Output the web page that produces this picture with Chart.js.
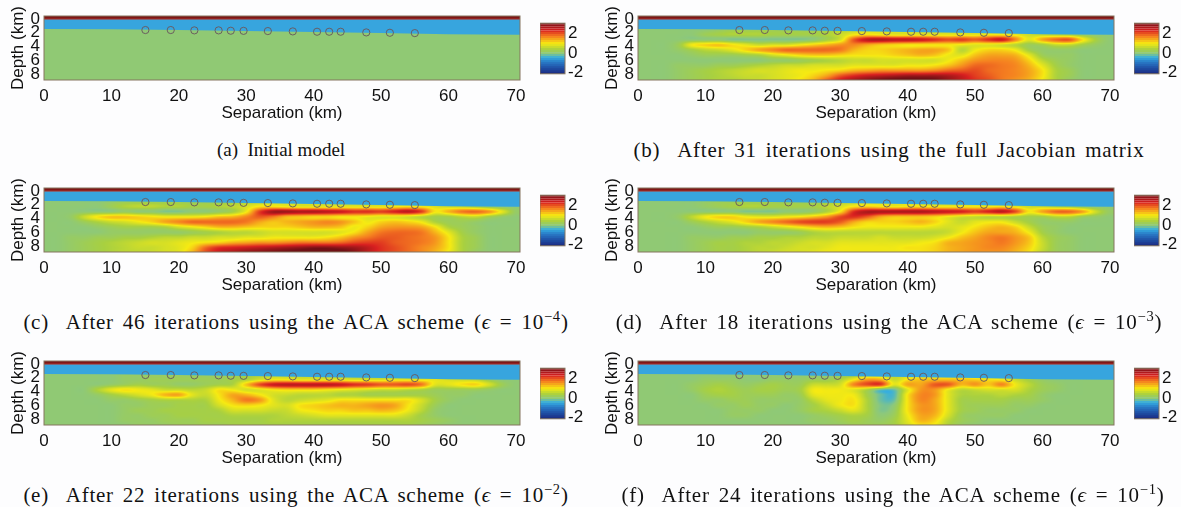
<!DOCTYPE html>
<html>
<head>
<meta charset="utf-8">
<title>Inverted conductivity models</title>
<script src="https://cdn.jsdelivr.net/npm/chart.js@4"></script>
<style>
    html, body { margin: 0; padding: 0; background: #fdfdfe; }
    body { position: relative; width: 1181px; height: 507px; overflow: hidden; }
    canvas { position: absolute; }
    .cap {
        position: absolute; white-space: nowrap; transform: translateX(-50%);
        font-family: "Liberation Serif", serif; font-size: 21px; line-height: 20px; color: #111;
        letter-spacing: 0.75px; word-spacing: 3px;
    }
    .cap.short { font-size: 19px; letter-spacing: 0; word-spacing: 0; }
    .cap sup { font-size: 14.5px; line-height: 0; }
</style>
</head>
<body>
<script>
// axes
const sepTicks = [0, 10, 20, 30, 40, 50, 60, 70];
const depthTicks = [0, 2, 4, 6, 8];
const colorTicks = [-2, 0, 2];

// receivers on the sea floor
const receiverX = [15.04, 18.8, 22.3, 25.9, 27.7, 29.6, 33.2, 36.9, 40.5, 42.3, 44, 47.8, 51.3, 55];
const receiverDepth = [1.6, 1.6, 1.65, 1.65, 1.7, 1.72, 1.75, 1.8, 1.85, 1.85, 1.85, 1.95, 2.0, 2.05];

// sea floor and air layer
const seaX = [0, 10, 20, 30, 40, 50, 60, 71];
const seaDepth = [1.45, 1.5, 1.6, 1.75, 1.9, 2.05, 2.2, 2.3];
const airX = [0, 71];
const airDepth = [0, 0];

// colour bar levels, bottom to top
const barLevels = [-2.12, -1.9, -1.7, -1.5, -1.3, -1.1, -0.9, -0.7, -0.5, -0.3, -0.1, 0.1, 0.3, 0.5, 0.7, 0.9, 1.1, 1.3, 1.5, 1.7, 1.9, 2.1, 2.3, 2.5, 2.7, 2.9, 3.04];

// colour ramp
const rampValues = [-2.1, -1.5, -0.9, -0.45, -0.05, 0.35, 0.95, 1.65, 2.3, 3.05];
const rampColors = [[27, 42, 128], [32, 80, 165], [42, 124, 200], [53, 174, 224], [140, 200, 124], [168, 208, 64], [246, 234, 18], [245, 128, 32], [217, 32, 32], [112, 16, 21]];

// sub-surface cells, tenths of a unit. Columns are x = 0, 2, ... 70 km
const cellDepths = [1.5, 2.25, 3, 3.75, 4.5, 5.25, 6, 6.75, 7.5, 8.25, 9];

const cellsA = [
    [0, 0],
    [0, 0]
];

const cellsB = [
    [0,0,0,0,0,0,1,2,2,2,2,2,2,2,3,4,6,8,9,9,9,8,8,8,6,6,5,5,4,3,3,2,1,0,0,0],
    [0,0,0,0,0,2,3,4,4,4,3,3,3,3,4,6,9,10,9,8,8,8,8,8,8,8,9,9,8,6,5,4,3,1,0,0],
    [0,0,0,0,0,0,0,-1,-1,-1,-1,-1,-1,0,3,7,19,25,26,25,25,24,22,20,21,19,22,24,16,8,14,18,19,10,3,0],
    [0,0,0,2,9,11,12,10,8,6,7,7,9,11,13,15,16,14,12,11,10,10,10,10,9,8,8,7,5,2,3,6,6,3,1,0],
    [0,0,0,1,3,5,6,8,11,14,16,18,18,18,18,17,13,11,11,12,13,14,14,12,5,9,11,11,9,3,1,1,1,0,0,0],
    [0,0,0,0,1,2,2,2,3,4,7,9,11,12,12,11,10,10,10,11,12,13,12,9,8,12,14,14,13,8,2,1,1,0,0,0],
    [0,0,0,0,0,0,0,0,0,0,1,1,2,3,4,5,6,6,7,7,7,7,7,9,12,15,16,16,15,11,5,2,1,0,0,0],
    [0,0,0,1,1,1,2,2,3,4,5,6,6,7,7,7,8,8,8,8,9,9,10,12,15,18,18,17,16,13,8,3,1,0,0,0],
    [0,0,0,1,2,3,4,5,6,7,7,8,9,9,10,11,13,14,15,15,15,15,16,18,19,20,18,17,16,14,10,4,2,0,0,0],
    [0,0,0,1,2,3,4,5,6,6,7,8,9,11,14,19,22,24,25,26,27,27,27,26,24,21,19,17,16,14,10,4,2,0,0,0],
    [0,0,0,1,2,3,4,4,5,6,7,8,10,13,19,24,27,29,31,32,32,32,31,28,25,22,20,17,15,13,9,4,1,0,0,0]
];

const cellsC = [
    [0,0,0,0,0,1,2,2,2,2,2,2,2,2,3,4,6,8,9,9,9,8,8,8,6,6,5,5,4,3,3,2,1,0,0,0],
    [0,0,0,0,0,2,4,5,5,4,4,3,3,4,5,7,10,10,9,8,8,8,8,8,8,8,9,10,9,7,6,5,3,1,0,0],
    [0,0,0,0,0,0,1,0,0,-1,-1,0,0,1,3,9,21,27,27,26,26,25,24,22,22,21,23,25,21,10,13,17,18,15,8,1],
    [0,0,1,6,10,12,12,11,10,9,9,9,10,12,13,16,19,17,13,12,11,11,10,10,9,8,8,7,5,3,3,5,6,3,1,0],
    [0,0,0,2,4,6,7,9,11,14,16,18,18,18,18,17,14,12,13,14,15,16,15,12,9,11,12,11,9,4,2,2,1,0,0,0],
    [0,0,0,0,1,2,3,3,3,4,7,9,11,13,13,12,11,11,11,12,13,13,12,9,11,14,15,15,14,10,4,2,1,0,0,0],
    [0,0,0,0,0,1,1,1,1,1,1,2,3,4,5,5,6,7,7,7,7,7,8,10,14,17,18,18,17,13,8,3,1,0,0,0],
    [0,0,1,1,2,2,3,3,4,5,5,6,6,7,7,8,8,9,9,9,9,10,12,15,17,19,19,18,17,15,10,4,2,0,0,0],
    [0,0,1,2,3,4,5,6,7,7,8,9,10,11,13,14,15,15,16,17,17,17,18,20,21,21,19,18,17,15,10,4,2,0,0,0],
    [0,0,1,2,3,4,5,6,6,7,8,11,18,22,23,24,25,26,27,28,29,29,28,27,25,22,20,18,16,14,10,4,2,0,0,0],
    [0,0,1,2,3,4,5,5,6,7,8,13,20,24,26,28,29,30,31,32,33,33,32,29,25,22,20,18,16,13,9,4,1,0,0,0]
];

const cellsD = [
    [0,0,0,0,0,1,2,2,2,2,2,2,2,2,3,4,6,8,9,9,9,8,8,8,6,6,5,5,4,3,3,2,1,0,0,0],
    [0,0,0,0,0,1,2,3,4,4,3,3,3,3,5,7,10,11,10,9,10,10,9,9,9,9,9,10,8,6,6,4,3,1,0,0],
    [0,0,0,0,0,0,0,0,-1,-1,-1,0,0,1,4,10,22,26,26,26,26,26,25,24,23,21,23,25,20,10,14,18,18,14,6,1],
    [0,0,0,1,5,9,11,11,9,8,8,9,10,12,15,20,22,19,14,12,12,12,11,9,7,6,5,5,4,3,3,5,5,2,1,0],
    [0,0,0,0,2,4,6,8,11,14,16,18,20,21,21,19,14,11,11,11,12,13,11,8,6,8,9,9,6,3,1,1,1,0,0,0],
    [0,0,0,0,0,1,2,2,3,4,6,8,10,12,13,12,10,9,9,9,9,9,8,7,8,10,12,13,11,6,2,1,0,0,0,0],
    [0,0,0,0,0,0,0,0,0,1,1,1,2,4,5,5,5,5,5,5,5,5,5,6,9,12,14,14,13,9,3,1,0,0,0,0],
    [0,0,0,0,1,1,1,2,2,3,3,4,4,5,5,6,6,6,7,6,6,6,7,9,12,14,16,17,15,12,5,2,1,0,0,0],
    [0,0,0,0,1,2,3,3,4,4,5,5,6,7,7,8,8,8,8,8,8,9,10,13,14,15,16,17,15,12,6,2,1,0,0,0],
    [0,0,0,0,1,2,3,3,4,5,5,6,7,7,8,9,9,9,9,9,10,10,11,13,14,15,16,16,14,11,6,2,1,0,0,0],
    [0,0,0,0,1,2,3,3,4,5,6,7,7,8,9,9,9,9,9,9,9,10,11,13,14,15,15,15,13,10,5,2,1,0,0,0]
];

const cellsE = [
    [0,0,0,0,0,0,1,1,1,1,1,1,1,1,2,3,5,6,6,6,6,5,5,5,5,4,4,4,3,3,3,2,1,0,0,0],
    [0,0,0,0,0,0,1,1,2,2,2,2,2,2,3,4,7,9,9,8,8,8,8,7,7,7,8,8,8,8,7,6,5,2,0,0],
    [0,0,0,0,0,1,2,3,2,2,1,1,2,3,4,12,20,24,25,25,25,25,24,22,21,19,19,20,17,8,8,10,11,7,2,0],
    [0,0,0,0,4,8,10,9,8,6,6,5,6,10,9,7,8,10,11,11,11,10,9,8,7,6,6,5,4,2,2,2,2,1,0,0],
    [0,0,0,0,1,3,5,7,9,13,14,8,6,10,14,13,10,7,6,5,5,5,4,4,3,3,3,3,3,2,1,1,0,0,0,0],
    [0,0,0,0,0,1,1,2,3,4,4,4,4,9,13,17,15,8,5,6,7,8,10,10,10,10,10,10,7,3,1,0,0,0,0,0],
    [0,0,0,0,0,0,1,1,2,2,3,3,3,7,10,11,10,8,7,10,11,12,13,13,14,15,14,10,6,2,0,0,0,0,0,0],
    [0,0,0,0,0,0,1,2,2,3,3,3,3,4,7,7,7,6,6,9,10,11,11,12,12,13,12,9,5,1,0,0,0,0,0,0],
    [0,0,0,0,0,0,1,1,2,2,3,3,3,3,4,4,4,4,5,6,7,8,8,8,8,8,8,6,3,1,0,0,0,0,0,0],
    [0,0,0,0,0,0,1,1,1,2,2,2,3,3,3,3,3,4,4,4,4,4,4,4,4,4,4,4,3,2,1,0,0,0,0,0],
    [0,0,0,0,0,0,0,1,1,1,2,2,2,2,3,3,3,3,3,3,3,3,3,3,3,3,3,3,2,1,0,0,0,0,0,0]
];

const cellsF = [
    [0,0,0,0,0,0,0,0,0,0,0,0,0,0,0,0,2,4,5,5,6,7,8,8,6,5,5,5,4,2,1,0,0,0,0,0],
    [0,0,0,0,0,1,1,1,0,0,1,1,1,2,2,4,9,14,13,6,10,12,12,12,12,11,10,9,6,3,1,0,0,0,0,0],
    [0,0,0,0,1,2,3,2,1,2,3,2,2,6,6,7,16,20,21,8,14,14,19,19,13,15,12,16,9,5,2,1,0,0,0,0],
    [0,0,0,0,1,3,4,3,2,3,3,2,3,9,9,9,8,4,-2,-2,8,15,15,9,5,6,7,7,7,4,2,1,0,0,0,0],
    [0,0,0,0,0,2,3,3,2,2,2,1,2,8,9,9,9,3,-2,-3,10,16,15,8,4,4,4,5,4,3,1,0,0,0,0,0],
    [0,0,0,0,0,1,1,2,2,1,1,1,1,5,8,9,10,4,-2,-2,10,16,14,8,3,3,3,3,2,2,1,0,0,0,0,0],
    [0,0,0,0,0,0,1,1,2,1,1,0,1,3,6,9,10,4,-1,0,10,15,14,8,3,2,2,2,1,1,0,0,0,0,0,0],
    [0,0,0,0,0,0,0,1,1,1,0,0,1,3,4,6,8,4,-1,1,10,15,14,8,3,2,1,1,1,0,0,0,0,0,0,0],
    [0,0,0,0,0,0,0,1,1,0,0,0,0,1,2,3,4,3,0,2,9,14,13,7,2,1,1,1,0,0,0,0,0,0,0,0],
    [0,0,0,0,0,0,0,0,0,0,0,0,0,1,1,2,3,2,1,3,8,13,11,5,2,1,0,0,0,0,0,0,0,0,0,0],
    [0,0,0,0,0,0,0,0,0,0,0,0,0,0,1,1,2,2,2,3,7,10,9,4,1,0,0,0,0,0,0,0,0,0,0,0]
];

// panels
const panels = [
    { cells: cellsA, left: 44, top: 16, caption: "(a)&nbsp; Initial model", capX: 281, capY: 140, capClass: "cap short" },
    { cells: cellsB, left: 638, top: 16, caption: "(b)&nbsp; After 31 iterations using the full Jacobian matrix", capX: 889, capY: 140, capClass: "cap" },
    { cells: cellsC, left: 44, top: 188, caption: "(c)&nbsp; After 46 iterations using the ACA scheme (<i>ϵ</i> = 10<sup>−4</sup>)", capX: 296, capY: 312, capClass: "cap" },
    { cells: cellsD, left: 638, top: 188, caption: "(d)&nbsp; After 18 iterations using the ACA scheme (<i>ϵ</i> = 10<sup>−3</sup>)", capX: 889, capY: 312, capClass: "cap" },
    { cells: cellsE, left: 44, top: 361, caption: "(e)&nbsp; After 22 iterations using the ACA scheme (<i>ϵ</i> = 10<sup>−2</sup>)", capX: 296, capY: 485, capClass: "cap" },
    { cells: cellsF, left: 638, top: 361, caption: "(f)&nbsp; After 24 iterations using the ACA scheme (<i>ϵ</i> = 10<sup>−1</sup>)", capX: 893, capY: 485, capClass: "cap" }
];

const textFont = { family: "'Liberation Sans', Arial, sans-serif", size: 17 };
const textColor = "#111";
const frameColor = "#85755f";

function rampColor(v) {
    if (v <= rampValues[0]) return rampColors[0];
    for (let i = 1; i < rampValues.length; i++) {
        if (v <= rampValues[i]) {
            const t = (v - rampValues[i - 1]) / (rampValues[i] - rampValues[i - 1]);
            const a = rampColors[i - 1], b = rampColors[i];
            return [a[0] + (b[0] - a[0]) * t, a[1] + (b[1] - a[1]) * t, a[2] + (b[2] - a[2]) * t];
        }
    }
    return rampColors[rampColors.length - 1];
}

function cubic(p0, p1, p2, p3, t) {
    return p1 + 0.5 * t * (p2 - p0 + t * (2 * p0 - 5 * p1 + 4 * p2 - p3 + t * (3 * (p1 - p2) + p3 - p0)));
}

// shaded field, same look as the original "shading interp" plot
function sampleCells(cells, x, depth) {
    const rows = cells.length, cols = cells[0].length;
    const depthMin = cellDepths[0], depthMax = cellDepths[cellDepths.length - 1];
    const fx = Math.max(0, Math.min(1, x / 70)) * (cols - 1);
    const fy = Math.max(0, Math.min(1, (depth - depthMin) / (depthMax - depthMin))) * (rows - 1);
    const ix = Math.min(cols - 2, Math.floor(fx)), iy = Math.min(rows - 2, Math.floor(fy));
    const vals = [];
    for (let r = iy - 1; r <= iy + 2; r++) {
        const row = cells[Math.max(0, Math.min(rows - 1, r))];
        vals.push(cubic(
            row[Math.max(0, ix - 1)], row[ix], row[ix + 1], row[Math.min(cols - 1, ix + 2)], fx - ix
        ));
    }
    return cubic(vals[0], vals[1], vals[2], vals[3], fy - iy) / 10;
}

const fieldPlugin = {
    id: "field",
    beforeDatasetsDraw(chart, args, opts) {
        const area = chart.chartArea;
        const x0 = Math.round(area.left), y0 = Math.round(area.top);
        const w = Math.round(area.right) - x0, h = Math.round(area.bottom) - y0;
        const img = chart.ctx.createImageData(w, h);
        for (let j = 0; j < h; j++) {
            const depth = chart.scales.y.getValueForPixel(y0 + j + 0.5);
            for (let i = 0; i < w; i++) {
                const sep = chart.scales.x.getValueForPixel(x0 + i + 0.5);
                const c = rampColor(sampleCells(opts.cells, sep, depth));
                const k = (j * w + i) * 4;
                img.data[k] = c[0];
                img.data[k + 1] = c[1];
                img.data[k + 2] = c[2];
                img.data[k + 3] = 255;
            }
        }
        chart.ctx.putImageData(img, x0, y0);
    }
};

const framePlugin = {
    id: "frame",
    afterDraw(chart) {
        const a = chart.chartArea, ctx = chart.ctx;
        ctx.save();
        ctx.strokeStyle = frameColor;
        ctx.lineWidth = 1;
        ctx.strokeRect(a.left, a.top, a.right - a.left, a.bottom - a.top);
        ctx.restore();
    }
};

function addCanvas(left, top, w, h) {
    const c = document.createElement("canvas");
    c.width = w;
    c.height = h;
    c.style.left = left + "px";
    c.style.top = top + "px";
    c.style.width = w + "px";
    c.style.height = h + "px";
    document.body.appendChild(c);
    return c;
}

function fixedTicks(list) {
    return function (scale) {
        scale.ticks = list.map(v => ({ value: v }));
    };
}

function drawPanel(p) {
    const canvas = addCanvas(p.left - 44, p.top - 15, 532, 123);
    new Chart(canvas, {
        type: "scatter",
        data: {
            datasets: [
                {
                    label: "Receivers",
                    order: 0,
                    data: receiverX.map((x, i) => ({ x: x, y: receiverDepth[i] })),
                    pointRadius: 3.6,
                    pointBorderWidth: 1,
                    pointBorderColor: "rgba(105,90,95,0.95)",
                    pointBackgroundColor: "rgba(0,0,0,0)"
                },
                {
                    label: "Air",
                    type: "line",
                    order: 1,
                    data: airX.map((x, i) => ({ x: x, y: airDepth[i] })),
                    pointRadius: 0,
                    borderWidth: 1,
                    borderColor: "#b03a30",
                    backgroundColor: "#7e1616",
                    fill: { value: -0.45 }
                },
                {
                    label: "Sea",
                    type: "line",
                    order: 2,
                    data: seaX.map((x, i) => ({ x: x, y: seaDepth[i] })),
                    pointRadius: 0,
                    borderWidth: 0,
                    backgroundColor: "#37a5de",
                    fill: { value: -0.45 }
                }
            ]
        },
        plugins: [fieldPlugin, framePlugin],
        options: {
            responsive: false,
            animation: false,
            layout: { padding: { top: 15, right: 12, bottom: 0, left: 0 } },
            plugins: {
                legend: { display: false },
                tooltip: { enabled: false },
                field: { cells: p.cells }
            },
            scales: {
                x: {
                    type: "linear",
                    min: 0,
                    max: 70.6,
                    afterBuildTicks: fixedTicks(sepTicks),
                    afterFit(scale) { scale.height = 44; },
                    grid: { display: false, drawTicks: false },
                    border: { display: false },
                    ticks: { font: textFont, color: textColor, padding: 6, maxRotation: 0, autoSkip: false },
                    title: { display: true, text: "Separation (km)", font: textFont, color: textColor, padding: 0 }
                },
                y: {
                    type: "linear",
                    reverse: true,
                    min: -0.45,
                    max: 8.9,
                    afterBuildTicks: fixedTicks(depthTicks),
                    afterFit(scale) { scale.width = 44; },
                    grid: { display: false, drawTicks: false },
                    border: { display: false },
                    ticks: { font: textFont, color: textColor, padding: 4, autoSkip: false },
                    title: { display: true, text: "Depth (km)", font: textFont, color: textColor, padding: { top: 8, bottom: 0 } }
                }
            }
        }
    });
}

function drawColorBar(p) {
    const canvas = addCanvas(p.left + 496, p.top - 6, 60, 77);
    const bands = [];
    for (let i = 0; i < barLevels.length - 1; i++) {
        const lo = barLevels[i], hi = barLevels[i + 1];
        const col = rampColor((lo + hi) / 2);
        const css = "rgb(" + col.map(Math.round).join(",") + ")";
        bands.push({ data: [[lo, hi]], backgroundColor: css, borderColor: css, borderWidth: 0.5, grouped: false, barPercentage: 1, categoryPercentage: 1 });
    }
    new Chart(canvas, {
        type: "bar",
        data: { labels: ["scale"], datasets: bands },
        plugins: [framePlugin],
        options: {
            responsive: false,
            animation: false,
            layout: { padding: { top: 6, bottom: 6, left: 0, right: 0 } },
            plugins: { legend: { display: false }, tooltip: { enabled: false } },
            scales: {
                x: { display: false },
                y: {
                    position: "right",
                    min: -2.12,
                    max: 3.04,
                    afterBuildTicks: fixedTicks(colorTicks),
                    afterFit(scale) { scale.width = 35; },
                    grid: { display: false, drawTicks: false },
                    border: { display: false },
                    ticks: { font: textFont, color: textColor, padding: 3, autoSkip: false }
                }
            }
        }
    });
}

panels.forEach(p => {
    drawPanel(p);
    drawColorBar(p);
    const cap = document.createElement("div");
    cap.className = p.capClass;
    cap.innerHTML = p.caption;
    cap.style.left = p.capX + "px";
    cap.style.top = p.capY + "px";
    document.body.appendChild(cap);
});
</script>
</body>
</html>
